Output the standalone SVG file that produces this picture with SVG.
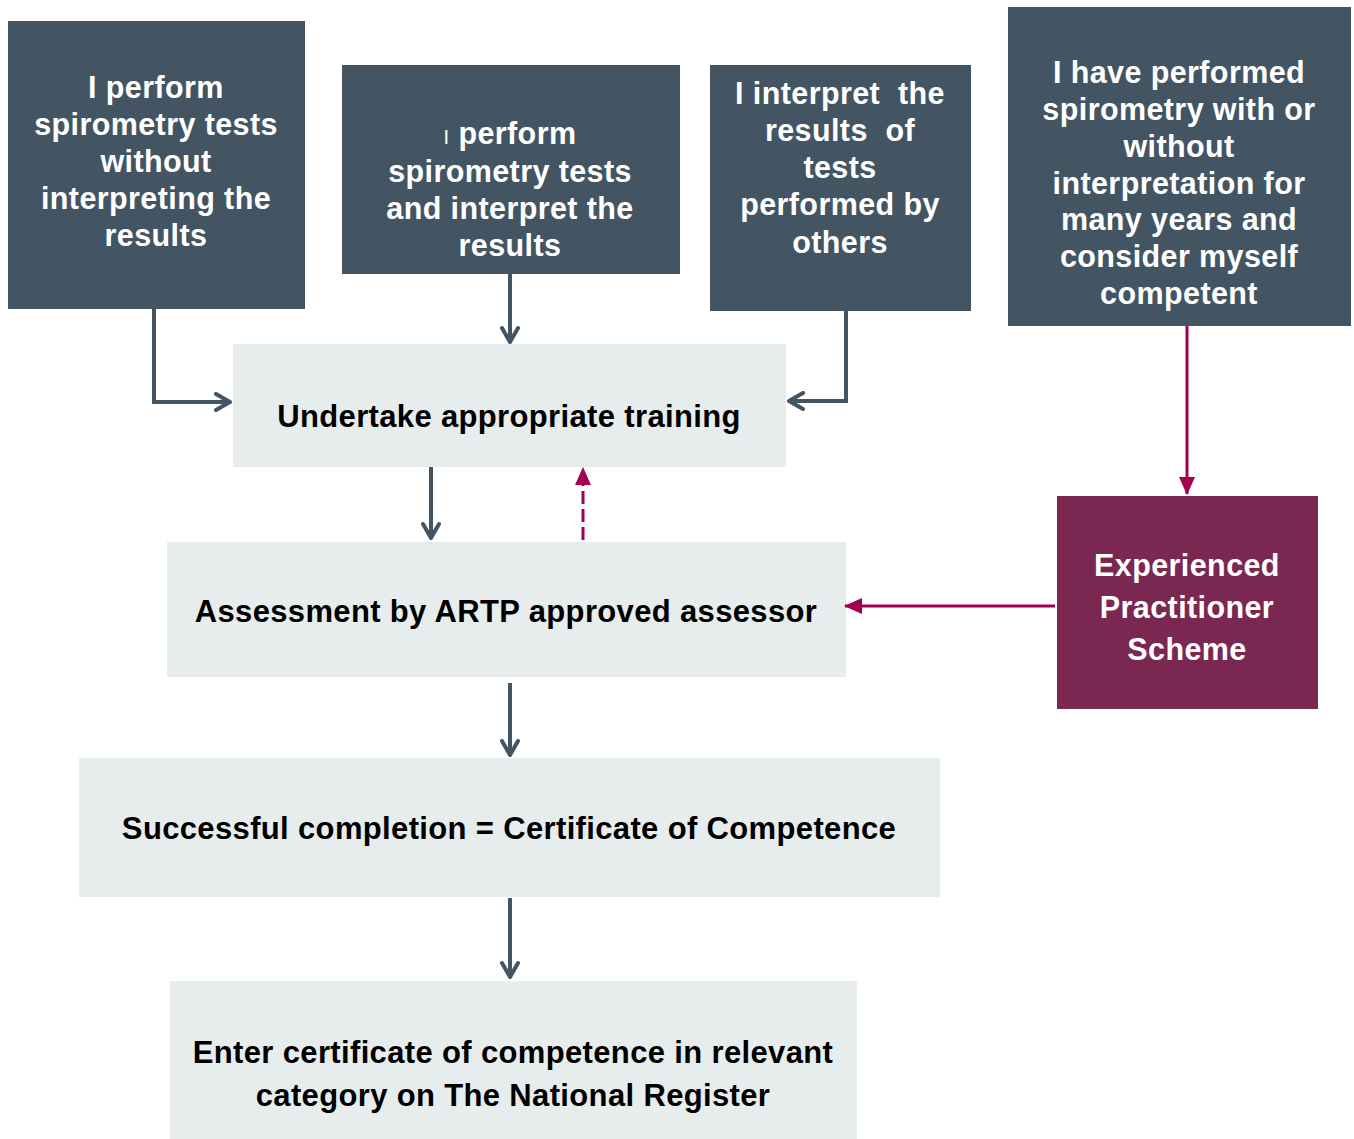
<svg xmlns="http://www.w3.org/2000/svg" width="1354" height="1139" viewBox="0 0 1354 1139">
<defs>
<style>
.dark{fill:#435563}
.light{fill:#e7eded}
.maroon{fill:#7a2851}
.wt{fill:#ffffff;font-family:"Liberation Sans",Arial,sans-serif;font-weight:bold;font-size:30.5px;text-anchor:middle;letter-spacing:0.4px}
.bt{fill:#000000;font-family:"Liberation Sans",Arial,sans-serif;font-weight:bold;font-size:31px;text-anchor:middle;letter-spacing:0.35px}
.gl{stroke:#435563;stroke-width:4;fill:none}
.ml{stroke:#a3004f;stroke-width:3;fill:none}
</style>
<marker id="chev" viewBox="0 0 20 20" refX="18" refY="10" markerWidth="20" markerHeight="20" markerUnits="userSpaceOnUse" orient="auto">
<path d="M4,2 L18,10 L4,18" fill="none" stroke="#435563" stroke-width="4" stroke-linecap="round" stroke-linejoin="round"/>
</marker>
<marker id="tri" viewBox="0 0 18 18" refX="17" refY="9" markerWidth="18" markerHeight="18" markerUnits="userSpaceOnUse" orient="auto">
<path d="M0,1 L18,9 L0,17 Z" fill="#a3004f"/>
</marker>
</defs>
<rect width="1354" height="1139" fill="#ffffff"/>
<g id="box1">
<rect class="dark" x="8" y="21" width="297" height="288"/>
<text class="wt"><tspan x="156" y="98">I perform</tspan><tspan x="156" y="135">spirometry tests</tspan><tspan x="156" y="172">without</tspan><tspan x="156" y="209">interpreting the</tspan><tspan x="156" y="246">results</tspan></text>
</g>
<g id="box2">
<rect class="dark" x="342" y="65" width="338" height="209"/>
<text class="wt"><tspan x="510" y="144"><tspan font-size="20px" font-weight="normal">I</tspan> perform</tspan><tspan x="510" y="182">spirometry tests</tspan><tspan x="510" y="219">and interpret the</tspan><tspan x="510" y="256">results</tspan></text>
</g>
<g id="box3">
<rect class="dark" x="710" y="65" width="261" height="246"/>
<text class="wt" style="white-space:pre"><tspan x="840" y="104">I interpret  the</tspan><tspan x="840" y="141">results  of</tspan><tspan x="840" y="178">tests</tspan><tspan x="840" y="215">performed by</tspan><tspan x="840" y="253">others</tspan></text>
</g>
<g id="box4">
<rect class="dark" x="1008" y="7" width="343" height="319"/>
<text class="wt"><tspan x="1179" y="83">I have performed</tspan><tspan x="1179" y="120">spirometry with or</tspan><tspan x="1179" y="157">without</tspan><tspan x="1179" y="194">interpretation for</tspan><tspan x="1179" y="230">many years and</tspan><tspan x="1179" y="267">consider myself</tspan><tspan x="1179" y="304">competent</tspan></text>
</g>
<g id="training">
<rect class="light" x="233" y="344" width="553" height="123"/>
<text class="bt" x="509" y="427">Undertake appropriate training</text>
</g>
<g id="assessment">
<rect class="light" x="167" y="542" width="679" height="135"/>
<text class="bt" x="506" y="622">Assessment by ARTP approved assessor</text>
</g>
<g id="eps">
<rect class="maroon" x="1057" y="496" width="261" height="213"/>
<text class="wt"><tspan x="1187" y="576">Experienced</tspan><tspan x="1187" y="618">Practitioner</tspan><tspan x="1187" y="660">Scheme</tspan></text>
</g>
<g id="success">
<rect class="light" x="79" y="758" width="861" height="139"/>
<text class="bt" x="509" y="839">Successful completion = Certificate of Competence</text>
</g>
<g id="register">
<rect class="light" x="170" y="981" width="687" height="158"/>
<text class="bt"><tspan x="513" y="1063">Enter certificate of competence in relevant</tspan><tspan x="513" y="1106">category on The National Register</tspan></text>
</g>
<g id="connectors">
<path class="gl" d="M154,309 V402 H230" marker-end="url(#chev)"/>
<path class="gl" d="M510,274 V342" marker-end="url(#chev)"/>
<path class="gl" d="M846,311 V401 H789" marker-end="url(#chev)"/>
<path class="gl" d="M431,467 V538" marker-end="url(#chev)"/>
<path class="gl" d="M510,683 V755" marker-end="url(#chev)"/>
<path class="gl" d="M510,898 V977" marker-end="url(#chev)"/>
<path class="ml" d="M1187,326 V494" marker-end="url(#tri)"/>
<path class="ml" d="M1055,606 H845" marker-end="url(#tri)"/>
<path class="ml" d="M583,540 V468" stroke-width="4" stroke-dasharray="13,5" marker-end="url(#tri)"/>
</g>
</svg>
